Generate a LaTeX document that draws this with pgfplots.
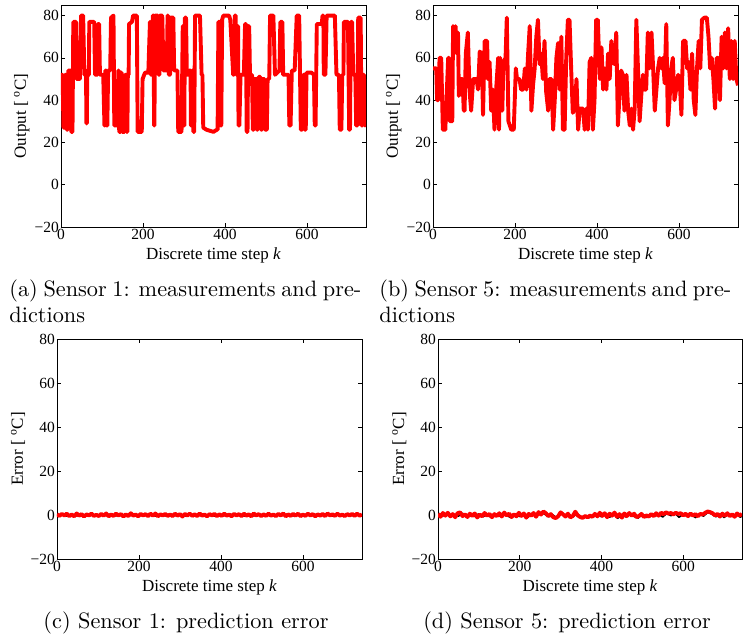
\documentclass[border=0pt]{standalone}
\usepackage{fontspec}
\newfontfamily\timesfont{Liberation Serif}
\usepackage{pgfplots}
\pgfplotsset{compat=1.18}
\pgfplotsset{
 myaxis/.style={
  scale only axis, width=305pt,
  xmin=0, xmax=744,
  xtick={0,200,400,600},
  axis line style={line width=0.9pt},
  every tick/.style={black, line width=0.7pt},
  major tick length=4pt,
  tick label style={font=\fontsize{15.5}{17}\selectfont\timesfont},
  xticklabel style={inner sep=1.5pt},
  yticklabel style={inner sep=2pt},
  every axis x label/.style={at={(axis description cs:0.5,0)}, anchor=base, yshift=-32pt, font=\fontsize{17}{20}\selectfont\timesfont},
  every axis y label/.style={at={(axis description cs:-0.1148,0.5)}, anchor=base, rotate=90, font=\fontsize{17}{20}\selectfont\timesfont},
  xlabel={Discrete time step \textit{k}},
  /pgf/number format/assume math mode=true,
 },
 errylabel/.style={every axis y label/.style={at={(axis description cs:-0.1115,0.5)}, anchor=base, rotate=90, font=\fontsize{17}{20}\selectfont\timesfont}},
 redline/.style={red, line width=3.9pt, line join=round},
 blackline/.style={black, line width=1.6pt, line join=round},
}
\begin{document}
\begin{tikzpicture}
\useasboundingbox (0,0) rectangle (744pt,-642pt);
% (a)
\begin{axis}[myaxis, at={(61pt,-227pt)}, anchor=south west, height=222pt,
  ymin=-20, ymax=85, ytick={-20,0,20,40,60,80}, yticklabels={−20,0,20,40,60,80},
  ylabel={Output [ \textsuperscript{o}C]}]
\addplot[redline] coordinates {
(0,52)(4,52)(6,27)(9,27)(10,52)(12,52)(14,26)(16,26)(18,54)(24,54)(25,25)(28,25)(30,77)(37,77)(38,50)(46,50)(49,80)(54,80)(57,52)(59,54)(61,54)(62,29)(63,29)(64,53)(68,52)(69,77)(81,77)(83,52)(89,52)(90,76)(93,76)(95,52)(103,52)(106,28)(107,28)(108,54)(110,54)(111,28)(113,28)(115,54)(120,54)(122,79)(128,80)(130,28)(137,28)(140,54)(141,54)(142,25)(145,25)(146,53)(148,53)(149,25)(155,25)(156,52)(159,52)(160,25)(162,25)(163,52)(165,52)(166,76)(173,77)(176,80)(185,80)(187,25)(197,25)(199,50)(205,53)(213,53)(217,77)(219,52)(222,52)(224,80)(226,80)(227,28)(228,28)(229,80)(236,80)(238,52)(240,52)(241,80)(247,80)(250,54)(258,54)(260,80)(261,80)(263,52)(266,52)(267,79)(274,79)(276,54)(284,54)(286,25)(294,25)(297,75)(299,75)(300,28)(301,28)(302,79)(305,79)(307,52)(311,52)(313,54)(316,54)(317,28)(319,28)(320,54)(322,54)(323,25)(325,25)(327,80)(339,80)(343,52)(345,52)(347,27)(355,26)(372,25)(380,26)(382,26)(384,77)(387,77)(389,28)(391,28)(393,78)(396,80)(410,80)(413,78)(420,52)(422,52)(424,80)(426,80)(428,52)(429,52)(430,75)(432,75)(433,28)(435,28)(438,52)(446,52)(449,76)(451,76)(453,25)(455,25)(457,75)(459,75)(461,52)(466,52)(468,26)(470,26)(472,50)(476,50)(478,26)(480,26)(482,51)(486,51)(488,26)(490,26)(492,50)(496,50)(498,26)(502,26)(504,50)(508,50)(510,80)(518,80)(522,52)(533,54)(535,77)(540,77)(542,52)(555,52)(557,28)(560,28)(563,54)(570,54)(575,80)(581,80)(585,26)(588,26)(591,52)(593,52)(595,26)(597,26)(599,53)(611,53)(617,52)(619,28)(621,28)(624,76)(636,76)(638,80)(640,80)(641,52)(645,52)(648,80)(668,80)(672,52)(678,52)(680,26)(684,26)(686,52)(689,52)(690,77)(700,77)(703,26)(705,26)(707,77)(710,77)(713,52)(718,52)(720,28)(723,28)(725,79)(731,79)(733,28)(735,28)(737,52)(739,52)(741,28)(742,28)(744,50)
};
\end{axis}
% (b)
\begin{axis}[myaxis, at={(433pt,-227pt)}, anchor=south west, height=222pt,
  ymin=-20, ymax=85, ytick={-20,0,20,40,60,80}, yticklabels={−20,0,20,40,60,80},
  ylabel={Output [ \textsuperscript{o}C]}]
\addplot[redline] coordinates {
(0,55)(8,55)(10,40)(13,40)(16,60)(20,60)(24,26)(30,26)(37,60)(39,60)(41,30)(47,30)(49,75)(52,70)(55,75)(57,63)(59,62)(61,72)(63,42)(67,50)(72,50)(75,35)(77,35)(80,62)(85,72)(89,45)(93,35)(98,50)(106,50)(110,45)(114,63)(119,62)(122,33)(126,68)(132,68)(134,50)(138,58)(142,35)(146,45)(150,26)(154,45)(159,60)(161,26)(164,60)(169,35)(172,58)(177,60)(180,79)(184,30)(191,26)(197,26)(202,55)(205,50)(211,50)(215,45)(220,45)(224,55)(228,45)(232,62)(236,75)(240,35)(244,47)(248,55)(252,70)(256,78)(260,57)(264,62)(268,50)(272,68)(276,44)(281,35)(284,50)(289,50)(293,26)(297,40)(301,60)(305,67)(309,45)(313,70)(317,26)(321,26)(325,60)(329,78)(333,78)(337,55)(341,34)(346,36)(350,50)(354,26)(358,36)(366,36)(370,26)(374,36)(378,26)(382,58)(386,60)(390,26)(394,40)(398,78)(402,78)(407,50)(411,65)(415,45)(419,55)(423,45)(427,62)(431,50)(435,68)(439,58)(443,57)(447,72)(451,28)(455,42)(459,54)(463,52)(467,35)(472,52)(476,35)(480,28)(484,36)(488,26)(492,36)(496,78)(500,55)(504,30)(508,42)(512,52)(516,45)(520,45)(524,72)(528,55)(533,72)(537,55)(541,35)(545,45)(549,55)(553,60)(557,55)(561,60)(565,48)(569,76)(573,28)(577,40)(581,55)(585,60)(589,40)(593,45)(598,52)(602,48)(606,33)(610,68)(616,68)(620,55)(624,58)(628,45)(632,62)(636,40)(640,33)(644,55)(648,68)(652,55)(656,78)(662,79)(668,79)(672,70)(676,55)(680,60)(684,50)(688,36)(692,60)(696,60)(700,40)(704,70)(708,55)(712,72)(716,55)(720,74)(724,50)(728,68)(732,50)(736,68)(740,50)(744,47)
};
\end{axis}
% (c)
\begin{axis}[myaxis, errylabel, at={(57pt,-559pt)}, anchor=south west, height=220pt,
  ymin=-20, ymax=80, ytick={-20,0,20,40,60,80}, yticklabels={−20,0,20,40,60,80},
  ylabel={Error [ \textsuperscript{o}C]}]
\addplot[blackline] coordinates {
(0,-0.2)(12,0.4)(24,-0.5)(36,0.3)(48,-0.4)(60,0.5)(72,-0.3)(84,0.2)(96,-0.5)(108,0.4)(120,-0.2)(132,0.5)(144,-0.4)(156,0.3)(168,-0.5)(180,0.4)(192,-0.3)(204,0.5)(216,-0.2)(228,0.4)(240,-0.5)(252,0.3)(264,-0.4)(276,0.5)(288,-0.3)(300,0.2)(312,-0.5)(324,0.4)(336,-0.2)(348,0.5)(360,-0.4)(372,0.3)(384,-0.5)(396,0.4)(408,-0.3)(420,0.5)(432,-0.2)(444,0.4)(456,-0.5)(468,0.3)(480,-0.4)(492,0.5)(504,-0.3)(516,0.2)(528,-0.5)(540,0.4)(552,-0.2)(564,0.5)(576,-0.4)(588,0.3)(600,-0.5)(612,0.4)(624,-0.3)(636,0.5)(648,-0.2)(660,0.4)(672,-0.5)(684,0.3)(696,-0.4)(708,0.5)(720,-0.3)(732,0.2)(744,-0.4)
};
\addplot[redline] coordinates {
(0,0.3)(6,-0.4)(12,0.5)(18,-0.2)(24,0.6)(30,-0.5)(36,0.2)(42,-0.6)(48,0.7)(54,-0.3)(60,0.4)(66,-0.7)(72,0.3)(78,-0.2)(84,0.6)(90,-0.4)(96,0.1)(102,-0.5)(108,0.5)(114,-0.3)(120,0.7)(126,-0.6)(132,0.2)(138,-0.4)(144,0.6)(150,-0.2)(156,0.4)(162,-0.7)(168,0.3)(174,-0.5)(180,0.8)(186,-0.3)(192,0.2)(198,-0.6)(204,0.5)(210,-0.2)(216,0.4)(222,-0.5)(228,0.6)(234,-0.3)(240,0.7)(246,-0.6)(252,0.3)(258,-0.2)(264,0.5)(270,-0.4)(276,0.2)(282,-0.5)(288,0.6)(294,-0.3)(300,0.4)(306,-0.7)(312,0.5)(318,-0.2)(324,0.6)(330,-0.4)(336,0.3)(342,-0.5)(348,0.7)(354,-0.3)(360,0.2)(366,-0.6)(372,0.4)(378,-0.2)(384,0.5)(390,-0.5)(396,0.3)(402,-0.4)(408,0.6)(414,-0.3)(420,0.2)(426,-0.6)(432,0.5)(438,-0.2)(444,0.4)(450,-0.5)(456,0.6)(462,-0.3)(468,0.3)(474,-0.6)(480,0.7)(486,-0.2)(492,0.4)(498,-0.5)(504,0.3)(510,-0.4)(516,0.6)(522,-0.3)(528,0.2)(534,-0.5)(540,0.5)(546,-0.2)(552,0.7)(558,-0.6)(564,0.3)(570,-0.4)(576,0.5)(582,-0.3)(588,0.6)(594,-0.5)(600,0.2)(606,-0.4)(612,0.6)(618,-0.2)(624,0.4)(630,-0.6)(636,0.3)(642,-0.3)(648,0.5)(654,-0.5)(660,0.7)(666,-0.2)(672,0.3)(678,-0.4)(684,0.6)(690,-0.3)(696,0.2)(702,-0.5)(708,0.4)(714,-0.2)(720,0.5)(726,-0.4)(732,0.6)(738,-0.3)(744,0.2)
};
\end{axis}
% (d)
\begin{axis}[myaxis, errylabel, at={(438pt,-559pt)}, anchor=south west, height=220pt, width=304pt,
  ymin=-20, ymax=80, ytick={-20,0,20,40,60,80}, yticklabels={−20,0,20,40,60,80},
  ylabel={Error [ \textsuperscript{o}C]}]
\addplot[blackline] coordinates {
(0,0.2)(10,-0.6)(20,0.5)(30,-0.9)(40,0.3)(50,-0.5)(60,0.8)(70,-1.0)(80,0.4)(90,-0.7)(100,0.6)(110,-0.8)(120,0.2)(130,-1.1)(140,0.5)(150,-0.6)(160,0.9)(170,-0.4)(180,-1.3)(190,0.3)(200,-0.7)(210,0.6)(220,-1.0)(230,0.4)(240,-0.5)(250,1.0)(260,0.5)(270,-0.8)(280,0.2)(290,-1.2)(300,0.9)(310,-0.4)(320,0.3)(330,-0.9)(340,0.7)(350,-1.0)(360,-0.3)(370,-1.2)(380,-0.5)(390,0.4)(400,-0.8)(410,0.6)(420,-1.0)(430,0.5)(440,-1.5)(450,0.3)(460,-0.9)(470,0.6)(480,-0.7)(490,-1.4)(500,0.4)(510,-1.1)(520,0.5)(530,-0.6)(540,0.3)(550,-0.9)(560,0.8)(570,-0.3)(580,0.7)(590,-1.0)(600,0.4)(610,-0.6)(620,0.5)(630,-1.2)(640,0.3)(650,-0.5)(660,1.2)(670,0.4)(680,-0.8)(690,0.5)(700,-1.1)(710,0.3)(720,-0.6)(730,0.4)(740,-1.0)(744,-0.4)
};
\addplot[redline] coordinates {
(0,0.5)(6,-0.8)(12,0.9)(18,-0.3)(24,1.0)(30,-0.6)(36,0.4)(42,-1.0)(48,0.8)(54,1.2)(60,-0.5)(66,0.3)(72,-0.9)(78,0.6)(84,-0.4)(90,0.7)(96,-1.1)(102,0.2)(108,-0.6)(114,0.9)(120,-0.3)(126,0.5)(132,-1.0)(138,0.4)(144,-0.5)(150,0.8)(156,-0.7)(162,1.1)(168,-0.2)(174,0.6)(180,-0.9)(186,0.3)(192,-0.6)(198,1.0)(204,-0.4)(210,0.7)(216,-1.2)(222,0.5)(228,-0.3)(234,0.9)(240,-0.8)(246,1.3)(252,0.2)(258,1.6)(264,0.8)(270,-0.5)(276,0.4)(282,-1.0)(288,-1.4)(294,-0.6)(300,1.2)(306,0.3)(312,-0.7)(318,0.6)(324,-1.1)(330,-0.4)(336,1.5)(342,-0.2)(348,-0.9)(354,-1.3)(360,-0.5)(366,-1.0)(372,-0.3)(378,-0.8)(384,0.5)(390,-0.6)(396,1.0)(402,-0.4)(408,0.8)(414,-1.0)(420,0.6)(426,-0.3)(432,1.1)(438,-0.8)(444,0.4)(450,-1.2)(456,0.7)(462,-0.5)(468,0.9)(474,-0.3)(480,0.6)(486,-1.0)(492,-0.4)(498,0.5)(504,-0.9)(510,-0.2)(516,-0.7)(522,0.4)(528,-0.5)(534,0.8)(540,-0.3)(546,1.0)(552,0.4)(558,1.2)(564,0.6)(570,0.9)(576,0.3)(582,1.0)(588,0.5)(594,0.8)(600,-0.2)(606,0.6)(612,-0.5)(618,0.7)(624,-0.3)(630,0.4)(636,-0.6)(642,0.5)(648,0.2)(654,1.0)(660,1.6)(666,1.3)(672,0.8)(678,-0.2)(684,0.5)(690,-0.7)(696,0.6)(702,-0.4)(708,0.8)(714,-0.5)(720,0.3)(726,-0.8)(732,0.7)(738,-0.3)(744,0.5)
};
\end{axis}
% captions
\node[anchor=north west, inner sep=0pt, scale=2.227, text width=158pt, align=justify, font=\fontsize{10}{12}\selectfont] at (9pt,-279pt)
  {(a) Sensor 1: measurements and pre-\linebreak dictions};
\node[anchor=north west, inner sep=0pt, scale=2.227, text width=158pt, align=justify, font=\fontsize{10}{12}\selectfont] at (379pt,-279pt)
  {(b) Sensor 5: measurements and pre-\linebreak dictions};
\node[anchor=base, inner sep=0pt, scale=2.227, font=\fontsize{10}{12}\selectfont] at (186pt,-628pt)
  {(c) Sensor 1: prediction error};
\node[anchor=base, inner sep=0pt, scale=2.227, font=\fontsize{10}{12}\selectfont] at (567pt,-628pt)
  {(d) Sensor 5: prediction error};
\end{tikzpicture}
\end{document}
